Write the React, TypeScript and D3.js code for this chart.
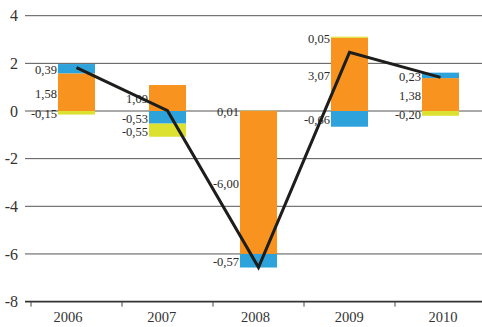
import React, { useEffect } from "react";
import * as d3 from "d3";

// Contributions by component, per year
const years = ["2006", "2007", "2008", "2009", "2010"];
const orangeSeries = [1.58, 1.09, -6.0, 3.07, 1.38];
const blueSeries = [0.39, -0.53, -0.57, -0.66, 0.23];
const yellowSeries = [-0.15, -0.55, 0.01, 0.05, -0.2];
const yTicks = [4, 2, 0, -2, -4, -6, -8];

const W = 482;
const H = 327;
const gridLeft = 25;
const gridRight = 482;
const font = "Liberation Serif, DejaVu Serif, serif";

const seriesKeys = ["orange", "blue", "yellow"] as const;
const colors: Record<string, string> = {
  orange: "#F7931E",
  blue: "#2EA3DB",
  yellow: "#DCE02E",
};

const fmt = (v: number) => v.toFixed(2).replace(".", ",");

export default function App() {
  useEffect(() => {
    document.body.style.margin = "0";
  }, []);

  const rows = years.map((year, i) => ({
    year,
    orange: orangeSeries[i],
    blue: blueSeries[i],
    yellow: yellowSeries[i],
  }));

  const stacked = d3
    .stack<any>()
    .keys(seriesKeys as unknown as string[])
    .offset(d3.stackOffsetDiverging)(rows);

  const totals = rows.map((r) => r.orange + r.blue + r.yellow);

  const x = d3
    .scaleBand<string>()
    .domain(years)
    .range([31, 486])
    .paddingInner(0.593)
    .paddingOuter(0.2965);

  const xLabel = d3.scaleBand<string>().domain(years).range([21, 490]);

  const y = d3.scaleLinear().domain([-8, 4]).range([301.6, 15.7]);

  // value labels: centred on their segment, then spread apart within each column
  const labels: { year: string; key: string; v: number; cy: number }[] = [];
  years.forEach((year, i) => {
    const col = stacked
      .map((s) => {
        const [a, b] = s[i];
        return { year, key: s.key, v: rows[i][s.key as "orange"], cy: (y(a) + y(b)) / 2 };
      })
      .sort((p, q) => p.cy - q.cy);
    for (let k = 1; k < col.length; k++) {
      if (col[k].cy - col[k - 1].cy < 13) col[k].cy = col[k - 1].cy + 13;
    }
    labels.push(...col);
  });

  const line = d3
    .line<number>()
    .x((_, i) => (x(years[i]) as number) + x.bandwidth() / 2)
    .y((d) => y(d));

  const ticksX = years.map((yr) => (x(yr) as number) - (x.step() - x.bandwidth()) / 2);

  const textStyle = { fontFamily: font };

  return (
    <svg width={W} height={H} style={{ display: "block", fontFamily: font }}>
      {yTicks.map((t) => (
        <g key={t}>
          <line
            x1={gridLeft}
            x2={gridRight}
            y1={y(t)}
            y2={y(t)}
            stroke={t === -8 ? "#333" : "#555"}
            strokeWidth={t === -8 ? 1.6 : 1}
          />
          <text
            x={18}
            y={y(t)}
            dy="0.35em"
            textAnchor="end"
            fontSize={16}
            fill="#333"
            style={textStyle}
          >
            {t}
          </text>
        </g>
      ))}

      {ticksX.map((tx, i) => (
        <line key={i} x1={tx} x2={tx} y1={y(-8)} y2={y(-8) + 5} stroke="#444" strokeWidth={1} />
      ))}

      {years.map((yr) => (
        <text
          key={yr}
          x={(xLabel(yr) as number) + xLabel.bandwidth() / 2}
          y={322}
          textAnchor="middle"
          fontSize={14.5}
          fill="#333"
          style={textStyle}
        >
          {yr}
        </text>
      ))}

      {stacked.map((s) =>
        s.map((d, i) => (
          <rect
            key={s.key + i}
            x={x(years[i])}
            width={x.bandwidth()}
            y={y(Math.max(d[0], d[1]))}
            height={Math.abs(y(d[0]) - y(d[1]))}
            fill={colors[s.key]}
          />
        ))
      )}

      {labels.map((l) => (
        <text
          key={l.year + l.key}
          x={(x(l.year) as number) - 1}
          y={l.cy + 1}
          dy="0.35em"
          textAnchor="end"
          fontSize={12.5}
          fill="#2a2a2a"
          style={textStyle}
        >
          {fmt(l.v)}
        </text>
      ))}

      <path d={line(totals) as string} fill="none" stroke="#1d1d1b" strokeWidth={3} />
    </svg>
  );
}
